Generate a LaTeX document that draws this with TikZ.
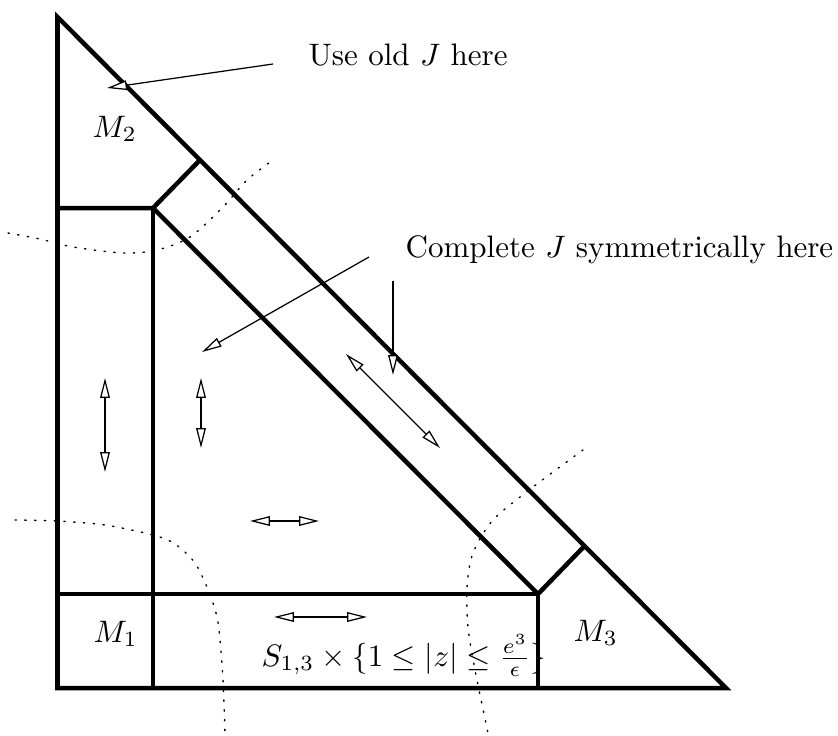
\documentclass[tikz,border=0pt]{standalone}
\usetikzlibrary{arrows.meta}
\begin{document}
\begin{tikzpicture}[x=0.322pt,y=-0.322pt,
  region/.style={line width=1.45pt, line join=miter, line cap=butt},
  pointer/.style={line width=0.4pt, -{Triangle[open,fill=white,length=6.4pt,width=3.1pt]}},
  twoway/.style={line width=0.4pt, {Triangle[open,fill=white,length=6.4pt,width=3.1pt]}-{Triangle[open,fill=white,length=6.4pt,width=3.1pt]}},
  boundary/.style={line width=0.45pt, dash pattern=on 0.45pt off 2.7pt, line cap=round},
  lbl/.style={inner sep=0pt, anchor=base west}]
\useasboundingbox (0,0) rectangle (838,735);
% corners
\coordinate (A) at (57.5,17);
\coordinate (B) at (57.5,688);
\coordinate (C) at (726,688);
\coordinate (P) at (153,208);
\coordinate (Q) at (200,160);
\coordinate (R) at (538,594);
\coordinate (S) at (584.5,546);
\coordinate (PL) at (57.5,208);
\coordinate (PB) at (153,688);
\coordinate (RL) at (57.5,594);
\coordinate (RB) at (538,688);
% regions
\draw[region] (A) -- (B) -- (C) -- cycle;
\draw[region] (PL) -- (P) -- (Q);
\draw[region] (P) -- (PB);
\draw[region] (P) -- (R);
\draw[region] (RL) -- (R) -- (RB);
\draw[region] (R) -- (S);
% dotted boundaries
\draw[boundary] plot[smooth] coordinates {(8,233) (40,239) (73,247) (123,253) (157,250) (190,237) (223,207) (247,180) (273,160)};
\draw[boundary] plot[smooth] coordinates {(15,520) (57,521) (105,525) (153,535) (175,544) (195,563) (209,592) (217,617) (220,640) (223,680) (225,733)};
\draw[boundary] plot[smooth] coordinates {(583,450) (533,487) (493,520) (473,553) (467,587) (468,627) (475,670) (488,733)};
% labels
\node[lbl] (M2) at (92,137) {$M_2$};
\node[lbl] (M1) at (93,642) {$M_1$};
\node[lbl] (M3) at (573,641) {$M_3$};
\node[lbl] (useold) at (308,65) {Use old $J$ here};
\node[lbl] (complete) at (405,257) {Complete $J$ symmetrically here};
\node[lbl] (strip) at (261,666) {$S_{1,3}\times\{1\le|z|\le\frac{e^3}{\epsilon}\}$};
% arrow ends
\coordinate (u0) at (273,64);
\coordinate (u1) at (107,88);
\coordinate (c0) at (369,257);
\coordinate (c1) at (202,352);
\coordinate (d0) at (393,281);
\coordinate (d1) at (393,375);
\coordinate (e0) at (346,354);
\coordinate (e1) at (440,448);
\coordinate (f0) at (201,378);
\coordinate (f1) at (201,448);
\coordinate (g0) at (105,378);
\coordinate (g1) at (105,472);
\coordinate (h0) at (250,521);
\coordinate (h1) at (319,521);
\coordinate (k0) at (274,617);
\coordinate (k1) at (367,617);
\draw[pointer] (u0) -- (u1);
\draw[pointer] (c0) -- (c1);
\draw[pointer] (d0) -- (d1);
\draw[twoway] (e0) -- (e1);
\draw[twoway] (f0) -- (f1);
\draw[twoway] (g0) -- (g1);
\draw[twoway] (h0) -- (h1);
\draw[twoway] (k0) -- (k1);
\end{tikzpicture}
\end{document}
